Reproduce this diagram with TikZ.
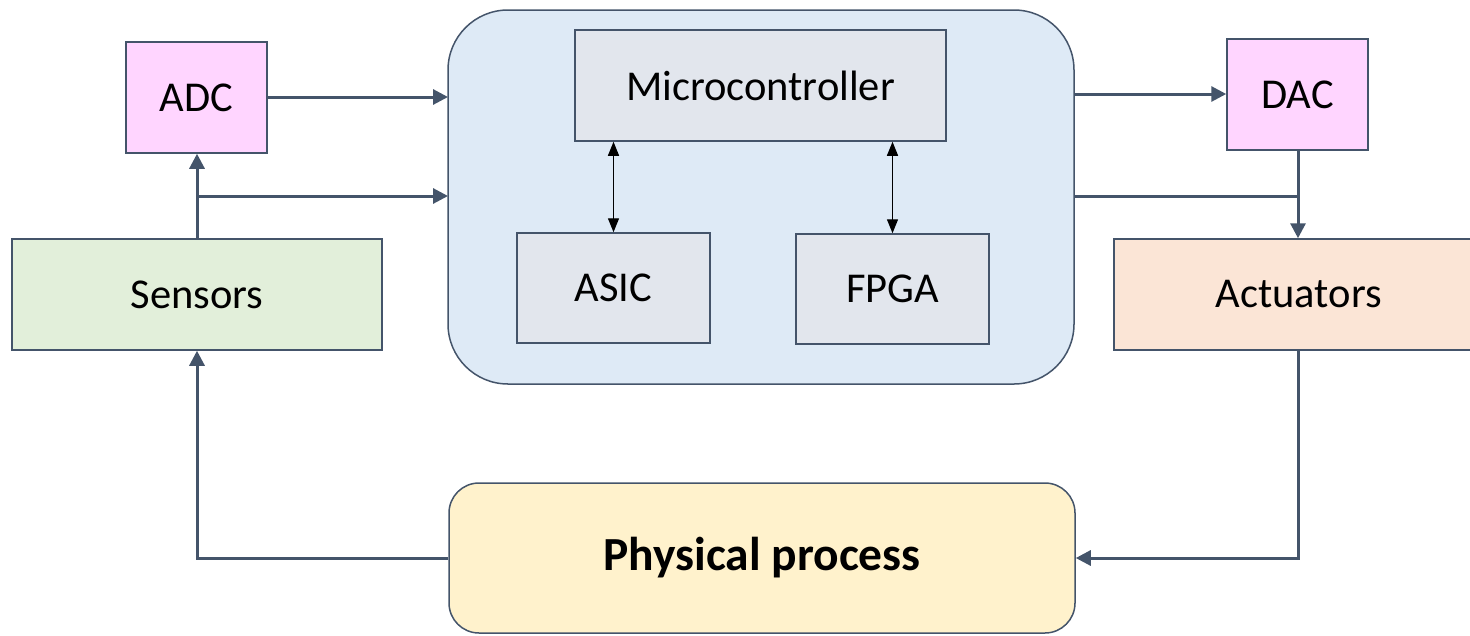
\documentclass[tikz,border=0pt]{standalone}
\usepackage{fontspec}
\setmainfont{Carlito}
\usetikzlibrary{arrows.meta}
\definecolor{lineC}{HTML}{44546A}
\definecolor{convC}{HTML}{FFD5FF}
\definecolor{sensC}{HTML}{E2EFDA}
\definecolor{mainC}{HTML}{DEEAF6}
\definecolor{innerC}{HTML}{E2E6ED}
\definecolor{actC}{HTML}{FBE5D6}
\definecolor{physC}{HTML}{FFF2CC}
\tikzset{
  box/.style={draw=lineC, line width=1.5pt, inner sep=0pt, font=\fontsize{42.5}{50}\selectfont},
  conn/.style={draw=lineC, line width=3pt, -{Triangle[length=15pt,width=15pt]}},
  plain/.style={draw=lineC, line width=3pt},
  biarrow/.style={draw=black, line width=1.3pt, {Triangle[length=14pt,width=11pt]}-{Triangle[length=14pt,width=11pt]}}
}
\begin{document}
\begin{tikzpicture}[x=1pt,y=-1pt]
\useasboundingbox (0,0) rectangle (1470,635);
% main rounded box
\draw[draw=lineC, line width=1.5pt, fill=mainC, rounded corners=60pt] (448,10) rectangle (1074,384);
% boxes
\node[box, fill=convC, minimum width=141pt, minimum height=111pt] (adc) at (196.5,97.5) {\raisebox{-2pt}{ADC}};
\node[box, fill=sensC, minimum width=370pt, minimum height=111pt] (sens) at (197,294.5) {\raisebox{-2pt}{Sensors}};
\node[box, fill=innerC, minimum width=371pt, minimum height=111pt] (mc) at (760.5,85.5) {\raisebox{-2pt}{Microcontroller}};
\node[box, fill=innerC, minimum width=193pt, minimum height=110pt] (asic) at (613.5,288) {\raisebox{-2pt}{ASIC}};
\node[box, fill=innerC, minimum width=193pt, minimum height=110pt] (fpga) at (892.5,289) {\raisebox{-2pt}{FPGA}};
\node[box, fill=convC, minimum width=141pt, minimum height=111pt] (dac) at (1297.5,94.5) {\raisebox{-2pt}{DAC}};
\node[box, fill=actC, minimum width=360pt, minimum height=111pt, anchor=west] (act) at (1113,294.5) {\hspace*{10pt}\raisebox{-2pt}{Actuators}};
\node[box, fill=physC, rounded corners=30pt, minimum width=626pt, minimum height=150pt, font=\fontsize{47.5}{56}\selectfont\bfseries] (phys) at (762,558) {\raisebox{-3pt}{Physical process}};
% coordinates
\coordinate (mainL1) at (448,97);
\coordinate (mainL2) at (448,196);
\coordinate (mainR1) at (1074,94);
\coordinate (mainR2) at (1074,196);
\coordinate (jL) at (197,196);
\coordinate (jR) at (1298,196);
% connectors
\draw[conn] (adc.east |- mainL1) -- (mainL1);
\draw[conn] (sens.north -| jL) -- (adc.south -| jL);
\draw[conn] (jL) -- (mainL2);
\draw[conn] (mainR1) -- (dac.west |- mainR1);
\draw[plain] (mainR2) -- (jR);
\draw[conn] (dac.south -| jR) -- (act.north -| jR);
\draw[conn] (act.south -| jR) |- (phys.east);
\draw[conn] (phys.west) -| (sens.south -| jL);
\draw[biarrow] (mc.south -| asic.north) -- (asic.north);
\draw[biarrow] (mc.south -| fpga.north) -- (fpga.north);
\end{tikzpicture}
\end{document}
